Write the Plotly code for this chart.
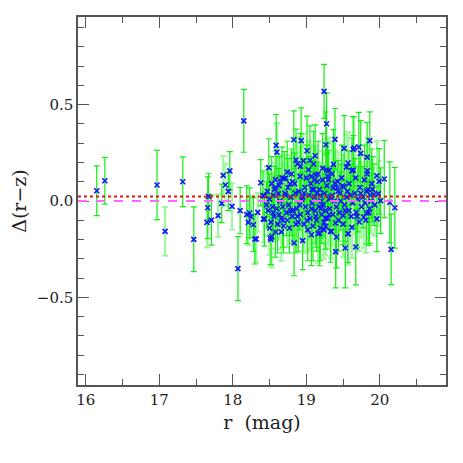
import plotly.graph_objects as go

# bright green error bars
r_a = [16.15, 16.26, 16.97, 17.32, 17.47, 17.67, 17.66, 17.71, 17.85, 17.94, 17.96, 18.07,
       18.10, 18.15, 18.19, 18.23, 18.28, 18.30, 18.38, 18.41, 18.43, 18.49, 18.52, 18.53,
       18.58, 18.59, 18.62, 18.70, 18.80, 18.83, 18.834, 18.86, 18.93, 18.95, 19.01, 19.07,
       19.10, 19.12, 19.145, 19.18, 19.242, 19.265, 19.275, 19.30, 19.33, 19.39, 19.40, 19.41,
       19.46, 19.50, 19.515, 19.53, 19.565, 19.62, 19.637, 19.673, 19.714, 19.74, 19.82,
       19.827, 19.864, 19.92, 19.96, 19.99, 20.01, 20.06, 20.136, 20.154, 20.204,
       18.46, 18.50, 18.54, 18.57, 18.61, 18.64, 18.67, 18.69, 18.73, 18.75, 18.77, 18.81,
       18.84, 18.89, 18.91, 18.94, 18.98, 19.00, 19.04, 19.06, 19.09, 19.11, 19.14, 19.17,
       19.19, 19.21, 19.23, 19.25, 19.28, 19.31, 19.35, 19.38, 19.43, 19.47, 19.55, 19.60,
       19.66, 19.70, 19.77, 19.86, 19.90,
       18.47, 18.55, 18.63, 18.68, 18.74, 18.79, 18.86, 18.92, 18.97, 19.02, 19.05, 19.08,
       19.13, 19.16, 19.20, 19.22, 19.26, 19.29, 19.33, 19.37, 19.44, 19.48, 19.53, 19.58,
       19.64, 19.69, 19.73, 19.79, 19.85, 19.89]
d_a = [0.053, 0.105, 0.083, 0.100, -0.199, 0.024, -0.035, -0.099, -0.012, 0.050, 0.156, -0.351,
       -0.050, 0.416, -0.071, -0.062, -0.123, -0.197, 0.095, 0.027, -0.094, 0.173, -0.200, 0.090,
       -0.161, 0.289, 0.038, 0.116, 0.140, 0.318, -0.218, 0.213, 0.313, -0.206, 0.261, -0.175,
       0.192, 0.235, 0.041, -0.166, 0.569, 0.292, 0.401, 0.111, -0.158, 0.320, -0.263, -0.187,
       0.041, -0.076, 0.273, -0.244, -0.170, 0.157, 0.268, -0.239, 0.280, 0.247, -0.062,
       0.228, 0.313, 0.033, -0.093, 0.102, 0.002, 0.114, -0.007, -0.251, -0.035,
       -0.02, 0.01, -0.03, 0.06, -0.12, 0.00, 0.12, -0.13, -0.06, 0.07, -0.14, -0.08,
       0.09, -0.11, -0.02, 0.01, 0.07, 0.12, 0.03, 0.09, -0.13, 0.02, -0.10, -0.03,
       -0.14, -0.07, -0.02, 0.04, 0.08, 0.01, 0.03, 0.00, 0.05, 0.00, 0.02, 0.03,
       0.04, 0.01, 0.02, -0.04, 0.06,
       0.05, -0.06, 0.08, -0.10, 0.15, -0.05, -0.12, 0.18, 0.04, -0.15, 0.21, 0.06,
       -0.08, 0.14, -0.04, 0.17, -0.09, 0.13, 0.02, 0.19, -0.10, 0.12, -0.05, 0.09,
       0.16, -0.08, 0.07, 0.11, -0.06, 0.09]
e_a = [0.129, 0.121, 0.180, 0.129, 0.168, 0.12, 0.16, 0.13, 0.10, 0.10, 0.10, 0.166,
       0.12, 0.163, 0.15, 0.13, 0.14, 0.13, 0.12, 0.13, 0.14, 0.15, 0.13, 0.14,
       0.13, 0.16, 0.13, 0.14, 0.13, 0.15, 0.17, 0.16, 0.17, 0.15, 0.18, 0.16,
       0.17, 0.16, 0.16, 0.17, 0.14, 0.17, 0.16, 0.15, 0.16, 0.16, 0.188, 0.16,
       0.15, 0.15, 0.17, 0.207, 0.15, 0.17, 0.17, 0.196, 0.18, 0.17, 0.16,
       0.18, 0.15, 0.16, 0.17, 0.17, 0.17, 0.20, 0.21, 0.183, 0.21,
       0.12, 0.13, 0.14, 0.12, 0.15, 0.13, 0.16, 0.14, 0.12, 0.15, 0.13, 0.14,
       0.16, 0.15, 0.13, 0.14, 0.15, 0.17, 0.16, 0.14, 0.18, 0.15, 0.16, 0.14,
       0.17, 0.15, 0.16, 0.14, 0.17, 0.16, 0.15, 0.17, 0.16, 0.15, 0.17, 0.16,
       0.18, 0.17, 0.16, 0.18, 0.17,
       0.13, 0.14, 0.15, 0.14, 0.16, 0.13, 0.15, 0.17, 0.14, 0.16, 0.18, 0.15,
       0.16, 0.17, 0.15, 0.18, 0.16, 0.17, 0.15, 0.18, 0.16, 0.17, 0.16, 0.17,
       0.18, 0.16, 0.17, 0.18, 0.17, 0.18]

# pale green error bars
r_b = [17.08, 17.65, 17.80, 17.87, 17.90, 17.99, 18.21, 18.25, 18.32, 18.34, 18.42, 18.43,
       18.51, 18.53, 18.55, 18.58, 18.60, 18.72, 18.78, 18.85, 18.88, 18.915, 18.96, 19.03,
       19.066, 19.10, 19.13, 19.16, 19.265, 19.275, 19.31, 19.34, 19.366, 19.39, 19.397,
       19.425, 19.49, 19.51, 19.547, 19.568, 19.57, 19.62, 19.65, 19.72, 19.78, 19.82,
       19.827, 19.83, 19.84, 19.96, 19.98,
       18.48, 18.52, 18.56, 18.60, 18.63, 18.65, 18.66, 18.68, 18.71, 18.74, 18.76, 18.79,
       18.82, 18.87, 18.90, 18.92, 18.97, 18.99, 19.02, 19.05, 19.08, 19.12, 19.15, 19.18,
       19.20, 19.22, 19.24, 19.26, 19.29, 19.32, 19.36, 19.41, 19.45, 19.52, 19.58, 19.63,
       19.68, 19.75, 19.80, 19.88, 19.93,
       18.50, 18.58, 18.66, 18.72, 18.81, 18.88, 18.95, 19.01, 19.07, 19.11, 19.19, 19.24,
       19.31, 19.35, 19.42, 19.50, 19.56, 19.61, 19.67, 19.74, 19.81, 19.87]
d_b = [-0.158, -0.111, -0.076, 0.133, 0.083, -0.028, -0.111, -0.083, -0.197, -0.059, -0.094, 0.027,
       -0.192, -0.184, 0.029, 0.111, 0.254, 0.118, 0.088, 0.041, 0.192, 0.128, 0.208, 0.162,
       0.128, 0.059, 0.136, -0.170, -0.132, 0.161, 0.159, -0.158, 0.068, 0.093, -0.114,
       0.102, 0.079, 0.073, 0.176, 0.197, -0.170, -0.137, 0.275, -0.109, -0.083, 0.050,
       0.140, 0.157, 0.059, 0.131, 0.038,
       -0.05, -0.11, -0.08, -0.04, -0.07, 0.10, -0.09, -0.03, 0.04, -0.10, -0.02, 0.02,
       -0.05, -0.04, 0.05, -0.07, -0.12, -0.03, -0.06, -0.09, -0.01, -0.05, 0.10, 0.06,
       0.00, 0.11, -0.11, -0.05, -0.09, -0.04, -0.07, -0.03, -0.06, -0.02, -0.05, -0.01,
       -0.06, -0.03, -0.01, 0.00, -0.02,
       -0.14, 0.07, -0.16, 0.03, 0.10, -0.08, 0.02, -0.10, -0.04, 0.11, 0.03, -0.15,
       -0.07, 0.14, 0.07, -0.12, 0.05, -0.08, 0.12, 0.04, -0.10, 0.03]
e_b = [0.126, 0.13, 0.11, 0.10, 0.11, 0.12, 0.12, 0.11, 0.12, 0.10, 0.12, 0.12,
       0.14, 0.16, 0.12, 0.15, 0.15, 0.12, 0.15, 0.14, 0.14, 0.15, 0.14, 0.15,
       0.16, 0.15, 0.15, 0.15, 0.15, 0.16, 0.17, 0.14, 0.15, 0.17, 0.16,
       0.15, 0.16, 0.16, 0.17, 0.16, 0.16, 0.16, 0.16, 0.15, 0.16, 0.17,
       0.16, 0.17, 0.17, 0.18, 0.17,
       0.13, 0.14, 0.12, 0.15, 0.13, 0.14, 0.16, 0.12, 0.15, 0.14, 0.13, 0.16,
       0.15, 0.14, 0.16, 0.13, 0.15, 0.17, 0.14, 0.16, 0.15, 0.17, 0.16, 0.14,
       0.16, 0.15, 0.17, 0.14, 0.16, 0.15, 0.16, 0.17, 0.15, 0.16, 0.17, 0.16,
       0.17, 0.16, 0.18, 0.17, 0.16,
       0.14, 0.13, 0.15, 0.14, 0.15, 0.16, 0.15, 0.16, 0.14, 0.17, 0.16, 0.15,
       0.16, 0.17, 0.15, 0.17, 0.16, 0.16, 0.17, 0.16, 0.17, 0.18]

mean_offset = 0.024   # red dotted line
zero_level = 0.0      # magenta dashed line

x_ticks = [16, 17, 18, 19, 20]
y_ticks = [-0.5, 0.0, 0.5]
y_labels = ["\u22120.5", "0.0", "0.5"]

font = "DejaVu Serif"

fig = go.Figure()

fig.add_trace(go.Scatter(
    x=r_b, y=d_b, mode="markers",
    marker=dict(size=1, color="rgba(0,0,0,0)"),
    error_y=dict(type="data", array=e_b, color="#a2f7a2", thickness=2.2, width=3),
    hoverinfo="skip", showlegend=False))

fig.add_trace(go.Scatter(
    x=r_a, y=d_a, mode="markers",
    marker=dict(size=1, color="rgba(0,0,0,0)"),
    error_y=dict(type="data", array=e_a, color="#10f010", thickness=1.2, width=3),
    hoverinfo="skip", showlegend=False))

fig.add_trace(go.Scatter(
    x=r_a + r_b, y=d_a + d_b, mode="markers",
    marker=dict(symbol="x-thin", size=5, line=dict(width=1.6, color="#1414ff")),
    showlegend=False))

fig.add_shape(type="line", xref="paper", x0=0, x1=1, y0=mean_offset, y1=mean_offset,
              line=dict(color="#ee1111", width=2, dash="dot"))
fig.add_shape(type="line", xref="paper", x0=0, x1=1, y0=zero_level, y1=zero_level,
              line=dict(color="#ff66ff", width=2, dash="dash"))

axis_common = dict(
    showline=True, mirror="ticks", linecolor="#555", linewidth=1.5,
    ticks="inside", tickcolor="#555", tickwidth=1.2, ticklen=11,
    showgrid=False, zeroline=False, automargin=False,
    tickfont=dict(family=font, size=15, color="#222"),
)

fig.update_xaxes(range=[15.895, 20.9], tickvals=x_ticks,
                 minor=dict(dtick=0.5, ticks="inside", ticklen=6, tickcolor="#555", tickwidth=1.2),
                 title=dict(text="r  (mag)", font=dict(family=font, size=19, color="#222"), standoff=8),
                 **axis_common)
fig.update_yaxes(range=[-0.955, 0.955], tickvals=y_ticks, ticktext=y_labels,
                 minor=dict(dtick=0.1, ticks="inside", ticklen=6, tickcolor="#555", tickwidth=1.2),
                 title=dict(text="\u0394(r\u2212z)", font=dict(family=font, size=19, color="#222"), standoff=8),
                 **axis_common)

# page body adds an 8px margin, so the figure is 8px smaller and shifted
fig.update_layout(
    width=455, height=455,
    margin=dict(l=70, r=17, t=9, b=78),
    plot_bgcolor="white", paper_bgcolor="white",
)

fig.write_html("out.html")
